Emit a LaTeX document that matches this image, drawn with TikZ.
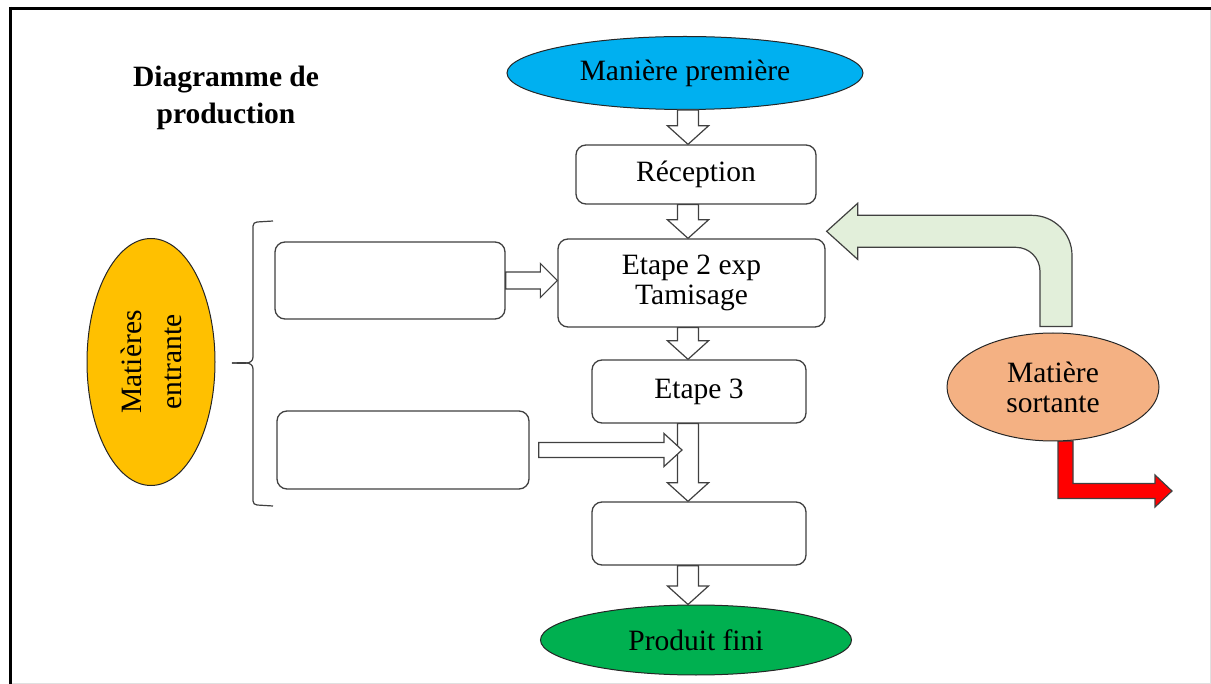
\documentclass[tikz,border=0pt]{standalone}
\usepackage{fontspec}
\setmainfont{Liberation Serif}
\usetikzlibrary{shapes.geometric,calc}

\definecolor{cblue}{HTML}{00B0F0}
\definecolor{cgreen}{HTML}{00B050}
\definecolor{cyellow}{HTML}{FFC000}
\definecolor{corange}{HTML}{F4B183}
\definecolor{cpale}{HTML}{E2EFDA}
\definecolor{cred}{HTML}{FF0000}
\definecolor{cline}{HTML}{404040}

\begin{document}
\begin{tikzpicture}[x=1pt,y=-1pt,
  txt/.style={font=\fontsize{29.5}{30}\selectfont, align=center, text=black},
  stepbox/.style={txt, draw=cline, line width=1.3pt, fill=white, rounded corners=10pt, inner sep=0pt},
  oval/.style={txt, ellipse, draw=black!85, line width=1pt, inner sep=0pt},
  arrowline/.style={draw=cline, line width=1.2pt, fill=white, line join=miter},
  downblock/.style={arrowline, to path={let \p1=(\tikztostart), \p2=(\tikztotarget) in
      (\x1-10.5pt,\y1) -- (\x1-10.5pt,\y2+18.5pt) -- (\x1-20.5pt,\y2+18.5pt) -- (\x1,\y2)
      -- (\x1+20.5pt,\y2+18.5pt) -- (\x1+10.5pt,\y2+18.5pt) -- (\x1+10.5pt,\y1) -- cycle}},
  rightblock/.style args={#1/#2/#3}{arrowline, to path={let \p1=(\tikztostart), \p2=(\tikztotarget) in
      (\x1,\y1+#1) -- (\x2-#3,\y1+#1) -- (\x2-#3,\y1+#2) -- (\x2,\y1)
      -- (\x2-#3,\y1-#2) -- (\x2-#3,\y1-#1) -- (\x1,\y1-#1) -- cycle}},
]
\useasboundingbox (0,0) rectangle (1211,684);

% page frame
\draw[black!12, line width=1pt] (1210,10) -- (1210,683) -- (11,683);
\draw[line width=3pt] (9,8.5) -- (1211,8.5);
\draw[line width=3pt] (10.5,7) -- (10.5,684);

% title
\node[txt, font=\fontsize{29.5}{37}\selectfont\bfseries] (title) at (226,98) {Diagramme de\\production};

% main column
\coordinate (spine) at (688,0);
\node[oval, fill=cblue, minimum width=356pt, minimum height=73pt] (mp) at (685,73) {Manière première};
\node[stepbox, minimum width=240pt, minimum height=59pt] (rec) at (696,174.5) {Réception};
\node[stepbox, minimum width=267pt, minimum height=88pt] (e2) at (691.5,283) {Etape 2 exp\\Tamisage};
\node[stepbox, minimum width=214pt, minimum height=63pt] (e3) at (699,391.5) {Etape 3};
\node[stepbox, minimum width=214pt, minimum height=63pt] (e4) at (699,533.5) {};
\node[oval, fill=cgreen, minimum width=311pt, minimum height=70pt] (pf) at (696,640) {Produit fini};

% inputs
\node[oval, fill=cyellow, rotate=90, minimum width=247pt, minimum height=128pt,
      font=\fontsize{29.5}{40}\selectfont] (me) at (151,362) {Matières\\entrante};
\node[stepbox, minimum width=230pt, minimum height=77pt] (ul) at (390,280.5) {};
\node[stepbox, minimum width=252pt, minimum height=78pt] (ll) at (403,450) {};

% bracket grouping the inputs
\draw[cline, line width=1.2pt] (273,221) -- (257,222) to[out=180,in=90] (253,226) -- (253,357)
  to[out=-90,in=0] (232,363);
\draw[cline, line width=1.2pt] (232,363) to[out=0,in=90] (253,369) -- (253,501)
  to[out=-90,in=180] (257,505) -- (273,506);

% flow arrows
\draw[downblock] (spine |- mp.south) to (spine |- rec.north);
\draw[downblock] (spine |- rec.south) to (spine |- e2.north);
\draw[downblock] (spine |- e2.south) to (spine |- e3.north);
\draw[downblock] (spine |- e3.south) to (spine |- e4.north);
\draw[downblock] (spine |- e4.south) to (spine |- pf.north);
\draw[rightblock=8.5pt/17pt/17pt] (ul.east) to (ul.east -| e2.west);
\draw[rightblock=7.5pt/16.5pt/18pt] ([xshift=9pt]ll.east) to ($(spine |- ll.east)+(-6,0)$);

% output material
\coordinate (rs) at (1065.5,441);
\coordinate (rt) at (1172,491);
\draw[draw=cline, line width=1.2pt, fill=cred] let \p1=(rs), \p2=(rt) in
  (\x1-7.5pt,\y1) -- (\x1-7.5pt,\y2-7.5pt) -- (\x2-17pt,\y2-7.5pt) -- (\x2-17pt,\y2-16pt)
  -- (\x2,\y2) -- (\x2-17pt,\y2+16pt) -- (\x2-17pt,\y2+7.5pt) -- (\x1+7.5pt,\y2+7.5pt)
  -- (\x1+7.5pt,\y1) -- cycle;
\node[oval, fill=corange, minimum width=212pt, minimum height=108pt] (ms) at (1053,387) {Matière\\sortante};

% recycled material back to step 2
\coordinate (gs) at ($(ms.north)+(3,-6)$);
\coordinate (gt) at ($(e2.north east)+(1,-7)$);
\draw[draw=cline, line width=1.2pt, fill=cpale] let \p1=(gs), \p2=(gt) in
  (\x1-16pt,\y1) -- (\x1-16pt,\y2-40pt) arc[start angle=0, end angle=90, radius=24pt]
  -- (\x2+31pt,\y2-16pt) -- (\x2+31pt,\y2-28pt) -- (\x2,\y2) -- (\x2+31pt,\y2+28pt)
  -- (\x2+31pt,\y2+16pt) -- (\x1-24pt,\y2+16pt) arc[start angle=90, end angle=0, radius=40pt]
  -- (\x1+16pt,\y1) -- cycle;
\end{tikzpicture}
\end{document}
